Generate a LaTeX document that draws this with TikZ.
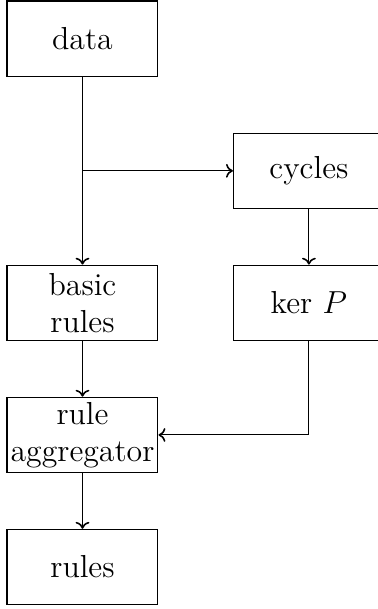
\documentclass[tikz,border=0pt]{standalone}
\usetikzlibrary{positioning,arrows.meta}
\begin{document}
\begin{tikzpicture}[
  box/.style={draw, rectangle, minimum width=2cm, minimum height=1cm, inner sep=0pt, align=center, font=\large},
  conn/.style={-{To[length=2.6pt,width=5.2pt,line width=0.6pt]}}
]
\useasboundingbox (-1.093,0.513) rectangle (3.914,-7.556);
\node[box] (data) at (0,0) {data};
\node[box] (cycles) at (3,-1.75) {cycles};
\node[box] (basic) at (0,-3.5) {basic\\rules};
\node[box] (kerP) at (3,-3.5) {ker $P$};
\node[box] (agg) at (0,-5.25) {rule\\aggregator};
\node[box] (rules) at (0,-7) {rules};
\draw[conn] (data.south) -- (basic.north);
\draw[conn] (data.south) |- (cycles.west);
\draw[conn] (cycles.south) -- (kerP.north);
\draw[conn] (basic.south) -- (agg.north);
\draw[conn] (kerP.south) |- (agg.east);
\draw[conn] (agg.south) -- (rules.north);
\end{tikzpicture}
\end{document}
